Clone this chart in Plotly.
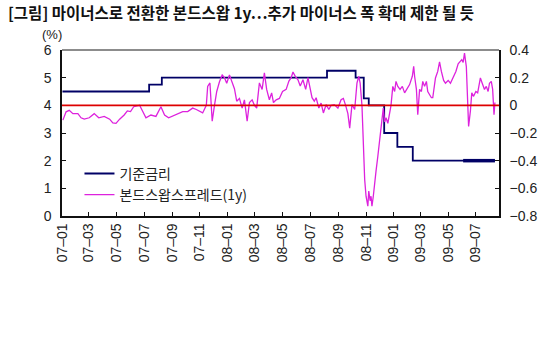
import plotly.graph_objects as go

# Bank of Korea base rate (%), step changes
rate_dates = ["2007-01-02", "2007-07-12", "2007-08-09", "2008-08-07", "2008-10-09",
              "2008-10-27", "2008-11-07", "2008-12-11", "2009-01-09", "2009-02-12", "2009-08-12"]
rate_values = [4.50, 4.75, 5.00, 5.25, 5.00, 4.25, 4.00, 3.00, 2.50, 2.00, 2.00]
rate_bold_from = "2009-06-03"

# 1-year bond swap spread (%p)
spread_dates = [
    "2007-01-03", "2007-01-10", "2007-01-17", "2007-01-25", "2007-02-05", "2007-02-12", "2007-02-19",
    "2007-03-02", "2007-03-13", "2007-03-23", "2007-04-04", "2007-04-16", "2007-04-23", "2007-04-30",
    "2007-05-08", "2007-05-18", "2007-05-25", "2007-06-01", "2007-06-08", "2007-06-21", "2007-06-28",
    "2007-07-05", "2007-07-16", "2007-07-27", "2007-08-07", "2007-08-15", "2007-08-24", "2007-08-31",
    "2007-09-13", "2007-09-24", "2007-10-05", "2007-10-16", "2007-10-24", "2007-10-31", "2007-11-07",
    "2007-11-15", "2007-11-18", "2007-11-23", "2007-11-28", "2007-12-03", "2007-12-08", "2007-12-14",
    "2007-12-20", "2007-12-25", "2007-12-30", "2008-01-05", "2008-01-11", "2008-01-16", "2008-01-21",
    "2008-01-27", "2008-02-02", "2008-02-07", "2008-02-13", "2008-02-18", "2008-02-24", "2008-02-29",
    "2008-03-05", "2008-03-11", "2008-03-17", "2008-03-22", "2008-03-27", "2008-04-02", "2008-04-07",
    "2008-04-11", "2008-04-17", "2008-04-24", "2008-05-01", "2008-05-09", "2008-05-15", "2008-05-20",
    "2008-05-24", "2008-05-29", "2008-06-04", "2008-06-09", "2008-06-15", "2008-06-21", "2008-06-26",
    "2008-07-01", "2008-07-05", "2008-07-10", "2008-07-14", "2008-07-20", "2008-07-25", "2008-07-30",
    "2008-08-05", "2008-08-11", "2008-08-16", "2008-08-23", "2008-08-31", "2008-09-07", "2008-09-12",
    "2008-09-17", "2008-09-22", "2008-09-26", "2008-10-01", "2008-10-07", "2008-10-12", "2008-10-16",
    "2008-10-19", "2008-10-23", "2008-10-25", "2008-10-27", "2008-10-29", "2008-11-01", "2008-11-05",
    "2008-11-07", "2008-11-10", "2008-11-12", "2008-11-14", "2008-11-17", "2008-11-20", "2008-11-23",
    "2008-11-27", "2008-12-01", "2008-12-04", "2008-12-07", "2008-12-09", "2008-12-12", "2008-12-15",
    "2008-12-19", "2008-12-23", "2008-12-26", "2008-12-30", "2009-01-03", "2009-01-06", "2009-01-10",
    "2009-01-15", "2009-01-20", "2009-01-25", "2009-01-30", "2009-02-05", "2009-02-11", "2009-02-14",
    "2009-02-16", "2009-02-20", "2009-02-23", "2009-02-27", "2009-03-03", "2009-03-06", "2009-03-10",
    "2009-03-14", "2009-03-17", "2009-03-21", "2009-03-25", "2009-03-28", "2009-04-03", "2009-04-08",
    "2009-04-12", "2009-04-16", "2009-04-21", "2009-04-25", "2009-05-01", "2009-05-06", "2009-05-12",
    "2009-05-18", "2009-05-23", "2009-05-31", "2009-06-03", "2009-06-06", "2009-06-10", "2009-06-12",
    "2009-06-15", "2009-06-19", "2009-06-22", "2009-06-26", "2009-07-01", "2009-07-05", "2009-07-11",
    "2009-07-15", "2009-07-20", "2009-07-24", "2009-07-28", "2009-07-31", "2009-08-04", "2009-08-07",
    "2009-08-10", "2009-08-12",
]
spread_values = [
    -0.107, -0.047, -0.036, -0.060, -0.060, -0.090, -0.100,
    -0.090, -0.060, -0.090, -0.080, -0.100, -0.127, -0.130,
    -0.100, -0.070, -0.040, -0.045, -0.010, 0.000, -0.045,
    -0.090, -0.070, -0.080, -0.010, -0.070, -0.090, -0.080,
    -0.060, -0.045, -0.045, -0.020, -0.030, -0.045, -0.055,
    0.000, 0.137, 0.162, -0.115, 0.000, 0.100, 0.170,
    0.220, 0.200, 0.160, 0.220, 0.160, 0.120, 0.030,
    0.050, -0.020, 0.040, -0.115, 0.020, 0.040, 0.000,
    -0.020, 0.162, 0.115, 0.234, 0.115, 0.040, 0.090,
    0.020, 0.040, 0.050, 0.100, 0.115, 0.175, 0.200,
    0.241, 0.210, 0.185, 0.140, 0.185, 0.115, 0.200,
    0.130, 0.055, 0.030, 0.055, -0.020, 0.016, -0.055,
    0.005, -0.030, 0.000, 0.005, -0.020, 0.040, 0.050,
    0.000, -0.060, -0.165, 0.005, -0.030, 0.160, 0.210,
    0.160, 0.000, -0.197, -0.368, -0.536, -0.657, -0.729,
    -0.620, -0.690, -0.657, -0.729, -0.657, -0.536, -0.476,
    -0.368, -0.248, -0.175, -0.103, -0.020, -0.120, -0.090,
    -0.130, -0.040, 0.000, 0.137, 0.100, 0.173, 0.137,
    0.115, 0.137, 0.090, 0.115, 0.150, 0.210, 0.282,
    0.210, 0.115, -0.067, 0.115, 0.100, 0.173, 0.137,
    0.173, 0.100, 0.078, 0.055, 0.055, 0.198, 0.245,
    0.315, 0.245, 0.180, 0.160, 0.180, 0.160, 0.200,
    0.245, 0.300, 0.330, 0.310, 0.378, 0.280, 0.041,
    -0.152, -0.040, 0.090, 0.065, 0.100, 0.090, 0.198,
    0.160, 0.115, 0.137, 0.100, 0.160, 0.173, 0.115,
    -0.067, 0.020,
]

TITLE = "[그림] 마이너스로 전환한 본드스왑 1y…추가 마이너스 폭 확대 제한 될 듯"
FONT = "Liberation Sans, Arial, Noto Sans CJK KR, sans-serif"
KFONT = "Noto Sans CJK KR, sans-serif"
NAVY = "#000066"
MAGENTA = "#dd22dd"

fig = go.Figure()

fig.add_trace(go.Scatter(
    x=rate_dates, y=rate_values, name="기준금리", mode="lines",
    line=dict(color=NAVY, width=1.8, shape="hv"), yaxis="y",
))
bold_idx = [i for i, d in enumerate(rate_dates) if d >= rate_bold_from]
fig.add_trace(go.Scatter(
    x=[rate_bold_from] + [rate_dates[i] for i in bold_idx],
    y=[rate_values[bold_idx[0] - 1]] + [rate_values[i] for i in bold_idx],
    mode="lines", showlegend=False, hoverinfo="skip",
    line=dict(color=NAVY, width=3.5, shape="hv"), yaxis="y",
))
fig.add_trace(go.Scatter(
    x=spread_dates, y=spread_values, name="본드스왑스프레드(1y)", mode="lines",
    line=dict(color=MAGENTA, width=1.3), yaxis="y2",
))

# zero line of the spread axis
fig.add_shape(type="line", xref="paper", x0=0, x1=1, yref="y2", y0=0, y1=0,
              line=dict(color="#dd0000", width=1.8), layer="above")
# grey top border of the plot area
fig.add_shape(type="line", xref="paper", x0=0, x1=1, yref="paper", y0=1, y1=1,
              line=dict(color="#8c8c8c", width=2))

fig.update_layout(
    width=550, height=338,
    margin=dict(l=62, r=51, t=50, b=122),
    paper_bgcolor="white", plot_bgcolor="white",
    font=dict(family=FONT, size=13, color="#222222"),
    title=dict(text=TITLE, xref="container", yref="container",
               x=8 / 550, y=1 - 14 / 338, xanchor="left", yanchor="middle",
               font=dict(family=KFONT, size=15.5, color="#111111", weight=700)),
    showlegend=True,
    legend=dict(x=0.04, y=0.35, xanchor="left", yanchor="top",
                bgcolor="rgba(0,0,0,0)", font=dict(family=KFONT, size=14, color="#222222"),
                tracegroupgap=0),
    xaxis=dict(type="date", range=["2007-01-01", "2009-08-21"],
               tick0="2007-01-01", dtick="M2", tickformat="%y–%m", tickangle=-90,
               ticks="inside", ticklen=4, tickcolor="#111111",
               showline=True, linecolor="#111111", linewidth=1.5,
               showgrid=False, zeroline=False,
               tickfont=dict(family=FONT, size=14)),
    yaxis=dict(range=[0, 6], dtick=1, ticks="inside", ticklen=4, tickcolor="#111111",
               showline=True, linecolor="#111111", linewidth=1.5,
               showgrid=False, zeroline=False, ticklabelstandoff=6,
               tickfont=dict(family=FONT, size=14)),
    yaxis2=dict(range=[-0.8, 0.4], dtick=0.2, tickformat=".1~f", overlaying="y", side="right",
                ticks="inside", ticklen=4, tickcolor="#111111",
                showline=True, linecolor="#111111", linewidth=1.5,
                showgrid=False, zeroline=False, ticklabelstandoff=6,
                tickfont=dict(family=FONT, size=14)),
    annotations=[dict(text="(%)", xref="paper", yref="paper", x=-0.022, y=1.095,
                      xanchor="center", yanchor="middle", showarrow=False,
                      font=dict(family=FONT, size=13, color="#222222"))],
)

fig.write_html("out.html")
